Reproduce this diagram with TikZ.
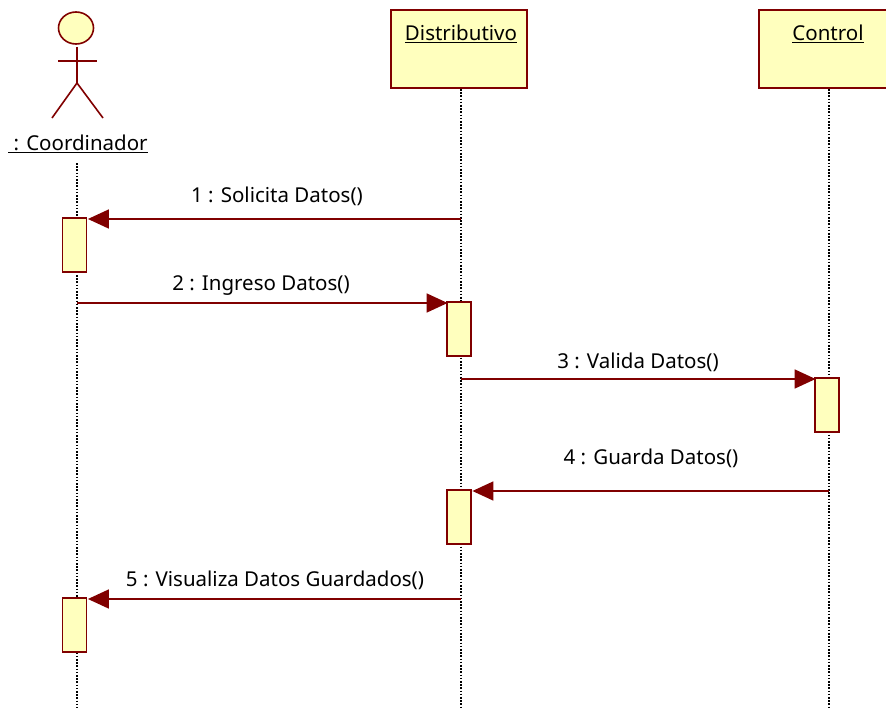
\documentclass[tikz,border=0pt]{standalone}
\usepackage{fontspec}
\setmainfont{Noto Sans}
\usetikzlibrary{arrows.meta}
\definecolor{umlline}{RGB}{128,0,0}
\definecolor{umlfill}{RGB}{255,255,190}
\tikzset{
  objbox/.style={draw=umlline,fill=umlfill,line width=1.8pt,minimum width=136pt,minimum height=78pt,inner sep=0pt},
  objtext/.style={font=\fontsize{20.5}{24}\selectfont,inner sep=0pt,text=black},
  bar/.style={draw=umlline,fill=umlfill,line width=1.8pt,minimum width=24pt,minimum height=54pt,inner sep=0pt},
  lifeline/.style={black,line width=1.6pt,dash pattern=on 1.6pt off 1.6pt},
  msg/.style={umlline,line width=1.6pt,-{Triangle[length=21pt,width=19pt]}},
  stick/.style={umlline,line width=1.6pt},
}
\begin{document}
\begin{tikzpicture}[x=1pt,y=-1pt]
\useasboundingbox (0,0) rectangle (886,709);

\coordinate (coordtop) at (77,163);
\coordinate (coordend) at (77,708);
\coordinate (distend) at (461,708);
\coordinate (ctrlend) at (829,708);

\node[objbox] (dist) at (459,49) {};
\node[objbox,minimum width=129pt] (ctrl) at (823.5,49) {};
\node[objtext] (distlabel) at (461,34) {\underline{Distributivo}};
\node[objtext] (ctrllabel) at (828,34) {\underline{Control}};

\draw[lifeline] (coordtop) -- (coordend);
\draw[lifeline] (dist.south -| distend) -- (distend);
\draw[lifeline] (ctrl.south -| ctrlend) -- (ctrlend);

% actor
\draw[stick,fill=umlfill] (76,28) ellipse (17.5 and 16);
\draw[stick] (77,47) -- (77,83);
\draw[stick] (58,61) -- (97,61);
\draw[stick] (52,118) -- (77,83) -- (103,118);
\node[objtext] (coord) at (78,144) {\underline{\ : Coordinador}};

% activations
\node[bar] (bara) at (74.5,245) {};
\node[bar] (barb) at (459,329) {};
\node[bar] (barc) at (827,405) {};
\node[bar] (bard) at (459,517) {};
\node[bar] (bare) at (74.5,625) {};

% messages
\coordinate (ma) at (461,219);
\coordinate (mb) at (77,303);
\coordinate (mc) at (461,379);
\coordinate (md) at (829,491);
\coordinate (me) at (461,599);
\draw[msg] (ma) -- ([xshift=0.5pt]ma -| bara.east);
\draw[msg] (mb) -- ([xshift=1.5pt]mb -| barb.west);
\draw[msg] (mc) -- ([xshift=1.5pt]mc -| barc.west);
\draw[msg] (md) -- ([xshift=0.5pt]md -| bard.east);
\draw[msg] (me) -- ([xshift=0.5pt]me -| bare.east);

\node[objtext] (la) at (277,196) {1 : Solicita Datos()};
\node[objtext] (lb) at (261,286) {2 : Ingreso Datos()};
\node[objtext] (lc) at (638,362) {3 : Valida Datos()};
\node[objtext] (ld) at (651,458) {4 : Guarda Datos()};
\node[objtext] (le) at (275,580) {5 : Visualiza Datos Guardados()};

\end{tikzpicture}
\end{document}
